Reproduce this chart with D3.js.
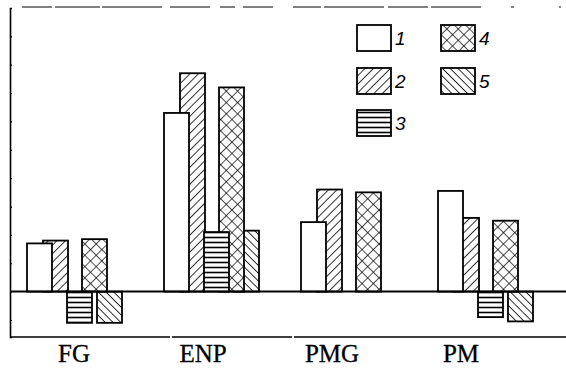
<!DOCTYPE html>
<html>
<head>
<meta charset="utf-8">
<script src="https://cdn.jsdelivr.net/npm/d3@7"></script>
<style>
  html, body { margin: 0; padding: 0; background: #fff; }
  svg { display: block; }
</style>
</head>
<body>
<script>
// ---- data ----
const categories = ["FG", "ENP", "PMG", "PM"];
const seriesNames = ["1", "2", "3", "4", "5"];
const series1 = [17, 63, 24.5, 35.5];
const series2 = [18, 77, 36, 26];
const series3 = [-11, 21, 0, -9];
const series4 = [18.5, 72, 35, 25];
const series5 = [-11, 21.5, 0, -10.5];
const seriesValues = [series1, series2, series3, series4, series5];

// ---- layout ----
const W = 566, H = 383;
const svg = d3.select("body").append("svg").attr("width", W).attr("height", H);

const y = d3.scaleLinear().domain([-16, 100]).range([337, 8]);
const x = d3.scaleBand().domain(categories).range([27, 27 + 137 * 4]).padding(0);
const labelX = d3.scalePoint().domain(categories).range([74, 461]);
const barOffset = [0, 16, 40, 55, 70];
const barW = 25;
const drawOrder = [1, 0, 4, 3, 2];

// ---- patterns ----
const defs = svg.append("defs");
function linePattern(id, size, angle, sw) {
  const p = defs.append("pattern").attr("id", id)
    .attr("patternUnits", "userSpaceOnUse")
    .attr("width", size).attr("height", size)
    .attr("patternTransform", `rotate(${angle})`);
  p.append("rect").attr("width", size).attr("height", size).attr("fill", "#fff");
  p.append("line").attr("x1", 0).attr("y1", 0).attr("x2", 0).attr("y2", size)
    .attr("stroke", "#000").attr("stroke-width", sw);
  return p;
}
linePattern("p2", 6, 45, 1.6);
linePattern("p5", 5.5, -45, 1.6);
{
  const p = defs.append("pattern").attr("id", "p3")
    .attr("patternUnits", "userSpaceOnUse").attr("width", 10).attr("height", 5);
  p.append("rect").attr("width", 10).attr("height", 5).attr("fill", "#fff");
  p.append("line").attr("x1", 0).attr("y1", 2.5).attr("x2", 10).attr("y2", 2.5)
    .attr("stroke", "#000").attr("stroke-width", 1.6);
}
{
  const p = defs.append("pattern").attr("id", "p4")
    .attr("patternUnits", "userSpaceOnUse").attr("width", 8).attr("height", 8)
    .attr("patternTransform", "rotate(45)");
  p.append("rect").attr("width", 8).attr("height", 8).attr("fill", "#fff");
  p.append("line").attr("x1", 0).attr("y1", 0).attr("x2", 0).attr("y2", 8)
    .attr("stroke", "#000").attr("stroke-width", 1.4);
  p.append("line").attr("x1", 0).attr("y1", 0).attr("x2", 8).attr("y2", 0)
    .attr("stroke", "#000").attr("stroke-width", 1.4);
}
const fills = ["#fff", "url(#p2)", "url(#p3)", "url(#p4)", "url(#p5)"];

// ---- frame ----
svg.append("line").attr("x1", 22).attr("x2", W).attr("y1", y(100) - 1).attr("y2", y(100) - 1)
  .attr("stroke", "#000").attr("stroke-width", 1)
  .attr("stroke-dasharray", "30 3 45 2 60 8 40 10 15 8 30 20 28 3 60 4 40 3 50");
svg.append("line").attr("x1", 10).attr("x2", W).attr("y1", y(-16)).attr("y2", y(-16))
  .attr("stroke", "#000").attr("stroke-width", 1.3)
  .attr("stroke-dasharray", "160 2 120 2 300");

const yAxis = d3.axisRight(y).tickValues(d3.range(-10, 101, 10)).tickSize(2).tickFormat("");
const gy = svg.append("g").attr("transform", "translate(10,0)").call(yAxis);
gy.select(".domain").attr("stroke", "#000").attr("stroke-width", 1.6);
gy.selectAll(".tick line").attr("stroke", "#000").attr("stroke-width", 1.2);

// ---- bars ----
const barsData = [];
categories.forEach((c, ci) => {
  drawOrder.forEach(si => {
    const v = seriesValues[si][ci];
    if (v !== 0) barsData.push({ c, si, v });
  });
});
svg.append("g").selectAll("rect").data(barsData).join("rect")
  .attr("x", d => x(d.c) + barOffset[d.si])
  .attr("y", d => y(Math.max(0, d.v)))
  .attr("width", barW)
  .attr("height", d => Math.abs(y(d.v) - y(0)))
  .attr("fill", d => fills[d.si])
  .attr("stroke", "#000").attr("stroke-width", 1.8);

// baseline
svg.append("line").attr("x1", 10).attr("x2", W).attr("y1", y(0)).attr("y2", y(0))
  .attr("stroke", "#000").attr("stroke-width", 2);

// ---- category labels ----
svg.append("g").selectAll("text").data(categories).join("text")
  .attr("x", d => labelX(d)).attr("y", 362)
  .attr("text-anchor", "middle")
  .attr("font-family", "'Liberation Serif', 'DejaVu Serif', serif")
  .attr("font-size", 25)
  .attr("fill", "#000")
  .attr("stroke", "#000").attr("stroke-width", 0.3)
  .text(d => d);

// ---- legend ----
const legendPos = [
  { lx: 357, ly: 25 }, { lx: 357, ly: 68 }, { lx: 357, ly: 110 },
  { lx: 441, ly: 25 }, { lx: 441, ly: 68 }
];
const lg = svg.append("g");
seriesNames.forEach((n, i) => {
  const p = legendPos[i];
  lg.append("rect").attr("x", p.lx).attr("y", p.ly).attr("width", 34).attr("height", 26)
    .attr("fill", fills[i]).attr("stroke", "#000").attr("stroke-width", 1.8);
  lg.append("text").attr("x", p.lx + 38).attr("y", p.ly + 20)
    .attr("font-family", "'Liberation Sans', Arial, sans-serif")
    .attr("font-style", "italic").attr("font-size", 19).attr("fill", "#000")
    .text(n);
});
</script>
</body>
</html>
